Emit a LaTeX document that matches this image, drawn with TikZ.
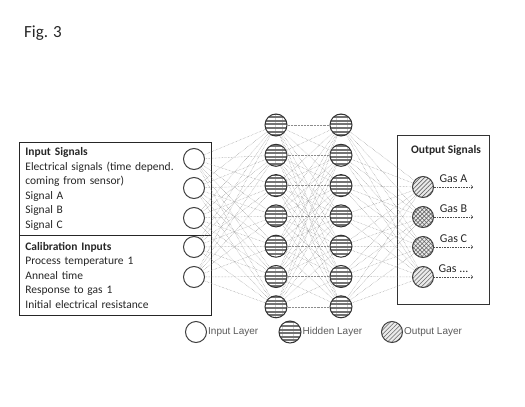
\documentclass[tikz,border=0pt]{standalone}
\usepackage{fontspec}
\setmainfont{Carlito}
\newfontfamily\legendfont{Liberation Sans}
\usepackage{tikz}
\usetikzlibrary{positioning,patterns.meta}

\begin{document}
\begin{tikzpicture}[
    x=1pt, y=-1pt,
    innode/.style={circle, draw=black!75, line width=1pt, fill=white, minimum size=21pt, inner sep=0pt},
    hidnode/.style={circle, draw=black!80, line width=1pt, preaction={fill=black!55}, pattern={Lines[angle=0, distance=3.6pt, line width=1.5pt]}, pattern color=white, minimum size=22pt, inner sep=0pt},
    outnode/.style={circle, draw=black!75, line width=1pt, preaction={fill=black!8}, pattern={Lines[angle=45, distance=3pt, line width=0.6pt]}, pattern color=black!60, minimum size=21pt, inner sep=0pt},
    crossnode/.style={outnode, pattern={Hatch[angle=45, distance=3pt, line width=0.6pt]}},
    conn/.style={black!45, densely dotted, line width=0.45pt},
    outarrow/.style={->, black!70, densely dotted, line width=0.6pt},
    gaslabel/.style={midway, above=1pt, font=\fontsize{12}{14}\selectfont, text=black!85},
    textbox/.style={rectangle, draw=black!85, thick, anchor=north west, text width=180pt, align=left, inner xsep=6pt, inner ysep=0pt, text=black!85, font=\fontsize{11.5}{14.5}\selectfont},
    legendtext/.style={font=\legendfont\fontsize{10}{11}\selectfont, text=black!65, inner sep=1pt}
]
    \useasboundingbox (0,0) rectangle (525,407);

    % Title
    \node[font=\fontsize{17}{20}\selectfont, text=black!85] (fig) at (43,33) {Fig. 3};

    % Input boxes
    \node[textbox, minimum height=93pt] (insig) at (19,142) {\textbf{Input Signals}\\Electrical signals (time depend.\\coming from sensor)\\Signal A\\Signal B\\Signal C};
    \node[textbox, minimum height=80pt] (calib) at (19,235) {\textbf{Calibration Inputs}\\Process temperature 1\\Anneal time\\Response to gas 1\\Initial electrical resistance};

    % Output box
    \node[draw=black!80, thick, minimum width=92pt, minimum height=169pt, anchor=north west, inner sep=0pt] (outbox) at (397,135) {};
    \node[font=\fontsize{11.5}{13}\selectfont\bfseries, text=black!85] (outtitle) at (446,150) {Output Signals};

    % Layers
    \foreach \y [count=\i] in {159,188,218,247,277}
        \node[innode] (in\i) at (194,\y) {};
    \foreach \i in {1,...,7} {
        \node[hidnode] (ha\i) at (276,{94.7+30.3*\i}) {};
        \node[hidnode] (hb\i) at (341,{94.7+30.3*\i}) {};
    }
    \node[outnode] (out1) at (423,187) {};
    \node[crossnode] (out2) at (423,217) {};
    \node[crossnode] (out3) at (423,247) {};
    \node[outnode] (out4) at (423,277) {};

    % Connections
    \foreach \i in {1,...,5}
        \foreach \j in {1,...,7}
            \draw[conn] (in\i) -- (ha\j);
    \foreach \i in {1,...,7}
        \foreach \j in {1,...,7}
            \draw[conn] (ha\i) -- (hb\j);
    \foreach \i in {1,...,7}
        \foreach \j in {1,...,4}
            \draw[conn] (hb\i) -- (out\j);

    % Output arrows
    \coordinate (gas1) at (473,187);
    \coordinate (gas2) at (473,217);
    \coordinate (gas3) at (473,247);
    \coordinate (gas4) at (473,277);
    \draw[outarrow] (out1) -- (gas1) node[gaslabel] {Gas A};
    \draw[outarrow] (out2) -- (gas2) node[gaslabel] {Gas B};
    \draw[outarrow] (out3) -- (gas3) node[gaslabel] {Gas C};
    \draw[outarrow] (out4) -- (gas4) node[gaslabel] {Gas ...};

    % Legend
    \node[innode] (legin) at (196,332) {};
    \node[legendtext, right=0pt of legin] (legintext) {Input Layer};
    \node[hidnode] (leghid) at (290,332) {};
    \node[legendtext, right=0pt of leghid] (leghidtext) {Hidden Layer};
    \node[outnode] (legout) at (392,332) {};
    \node[legendtext, right=0pt of legout] (legouttext) {Output Layer};
\end{tikzpicture}
\end{document}
